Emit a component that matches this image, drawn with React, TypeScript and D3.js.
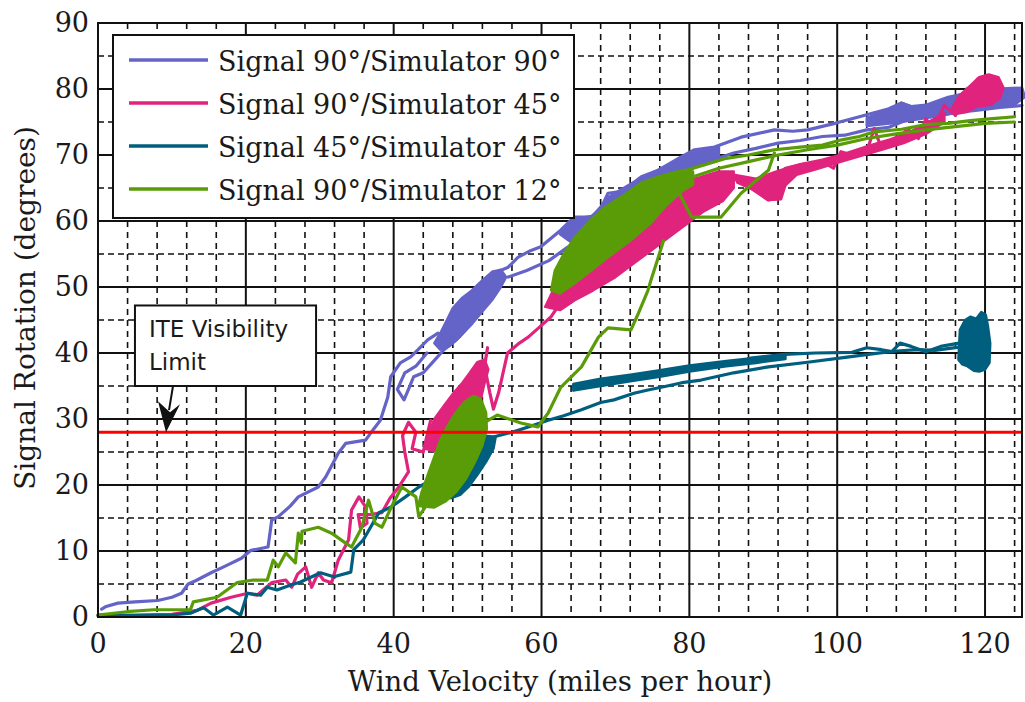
import { useEffect, useRef } from 'react';
import * as d3 from 'd3';

type Pt = [number, number];

// axis ticks
const xTicks = [0, 20, 40, 60, 80, 100, 120];
const yTicks = [0, 10, 20, 30, 40, 50, 60, 70, 80, 90];
const visibilityLimit = 28;

// Signal 90°/Simulator 90°
const blueRamp: Pt[] = [[0.5, 1.2], [1.1, 1.6], [2.7, 2.1], [5, 2.3], [8.1, 2.5], [10, 3.0], [11.3, 3.6], [12.2, 5.0], [13.2, 5.5], [15.3, 6.7], [17, 7.6], [19.4, 8.9], [20.7, 10.1], [23, 10.6], [23.3, 13], [23.5, 14.7], [24.4, 15.2], [26, 16.8], [27.1, 18.2], [29.8, 19.7], [30.8, 21.2], [32.5, 24.8], [33.5, 26.3], [36.2, 26.8], [37.3, 28.5], [38.2, 29.8], [39.2, 33.3], [39.6, 36.4], [40.9, 38.5], [42.3, 39.4], [43.3, 40.5], [44.6, 42], [46, 43]];
const blueLoop: Pt[] = [[55, 51.5], [53, 48], [50.5, 44.5], [48.5, 42], [46.8, 40.5], [45.2, 38.5], [44, 37], [42.7, 36.4], [42, 34.5], [41.4, 32.9], [40.5, 34.5], [41.5, 37], [43, 38], [44.5, 40]];
const blueUpper: Pt[] = [[53.6, 52.1], [55.5, 53], [56.8, 54.5], [58.5, 55.5], [59.9, 56.1], [62.6, 58.6], [64.4, 60.6], [66.7, 60.6], [68.1, 62.1], [69, 64.2], [70.4, 64.4], [71.5, 65], [73.5, 66.7], [75.8, 67.7], [78.9, 69.7], [80.7, 70.8], [83.4, 71.2], [87, 72.7], [91.5, 73.8], [94, 73.6], [96, 73.8], [99.7, 74.8], [102, 75.5], [105, 76.4], [107, 77], [108.7, 77.9], [110, 77.3], [111.5, 76.8], [114.2, 78.3], [116, 78.6], [118.6, 79.4], [121, 79.6], [123, 79.3], [125, 79.6]];
const blueReturn: Pt[] = [[125, 77.5], [122, 77.2], [119, 76.8], [116, 76.4], [113, 75.8], [110, 75.6], [107, 74.2], [104, 73.8], [101, 73], [98, 72.8], [95, 72.2], [92, 71.8], [89, 71], [86, 70.3], [83, 69.2], [80, 67.8], [77, 66], [74, 64], [71, 62], [68.5, 60.5], [66, 58.2], [63.5, 56], [61, 54], [58, 52.5], [55.5, 51.5]];
const blueBlob: Pt[] = [[45.5, 41.5], [46.3, 43], [47.2, 45], [48, 46.8], [49.2, 48.3], [50.4, 49.3], [51.8, 50.8], [53.3, 52.3], [54.5, 52.6], [55.2, 51.5], [54.5, 50], [53.3, 48], [52, 46.3], [50.5, 44.3], [49, 42.5], [47.5, 41], [46.3, 40.5]];
const blueMid: Pt[] = [[62.5, 58], [64.4, 60.3], [67, 60.8], [69, 63.6], [72, 65.6], [75, 67.3], [78.5, 69.3], [81, 70.6], [84, 71.2], [84, 69.6], [80, 67.8], [76, 65.8], [72, 62.8], [68, 59.8], [64, 56.8]];
const blueTop: Pt[] = [[104, 75.6], [107, 77], [108.7, 77.9], [110, 77.4], [112, 77.6], [115, 78.8], [118, 79.5], [121, 80], [125, 80.2], [125.4, 78.8], [124, 77.6], [120, 77.1], [116, 76.4], [112, 75.6], [108, 74.9], [104, 74.4]];

// Signal 90°/Simulator 45°
const pinkMain: Pt[] = [[0, 0.3], [5, 0.3], [10, 0.4], [12.2, 0.8], [13.4, 1.0], [15.3, 2.1], [18, 3.0], [20.3, 3.6], [21.5, 3.3], [23.5, 5.2], [25.4, 5.6], [26.2, 4.5], [27, 6.5], [28.1, 7.6], [28.9, 4.5], [29.8, 6.7], [30.5, 5.6], [31.6, 5.2], [32.5, 8.6], [33.9, 11.7], [34.3, 16.2], [35.3, 18.2], [36.2, 16.7], [36.4, 14.2], [35.5, 13.5], [35.2, 15.5], [36.8, 15.5], [38.4, 15.8], [39.5, 18], [40.7, 19.7], [42, 22], [41.5, 25], [41.2, 27.5], [42, 29.5], [43, 28], [42.5, 25.5], [44, 25], [44.5, 27.5], [45, 29.8]];
const pinkRise: Pt[] = [[51.5, 33], [52, 36], [52.7, 40.8], [52.3, 38], [53, 34], [53.5, 31.5], [54.2, 34], [55.4, 40], [57, 41.5], [58.2, 42.4], [59.8, 44], [61.3, 45.5], [62.5, 47.5], [63.6, 49.5], [65, 50.3], [66.5, 49.5], [67.7, 50.2], [66, 51]];
const pinkUpper: Pt[] = [[85, 67], [87, 66], [89, 64.5], [90.7, 63.2], [92.3, 63.5], [92.5, 65.8], [91.5, 66.5], [93, 68], [95, 68.5], [98, 69], [99.5, 68], [100.5, 70.5], [102, 70], [104, 70.5], [105, 74], [106, 71], [108, 72], [109.5, 74], [111, 72.5], [112, 75.5], [113, 74], [114.5, 77.5], [116, 76], [117, 78.5], [118.5, 77.5], [117.5, 80], [119.5, 79], [119, 81.5], [121, 80], [120.5, 81.8], [122, 79.5], [121.5, 78.5], [120, 77.5]];
const pinkBlob: Pt[] = [[44.3, 25.5], [44.8, 28], [45.5, 30], [46.8, 32], [48, 33.8], [49.3, 35.5], [50.3, 37], [51.3, 38.6], [52.3, 39], [52.8, 37.5], [52.2, 35], [51.8, 33], [50.8, 31], [49.8, 29], [48.8, 27], [47.5, 25.5], [46, 25]];
const pinkCluster: Pt[] = [[60.5, 47], [62, 50.5], [64, 53.5], [66, 56], [68, 58.5], [70, 60.5], [72.5, 62.5], [75, 64], [78, 65.5], [81, 66.5], [84, 67.5], [86, 67.5], [86, 65], [84.5, 63], [82, 61.5], [79, 59], [76, 56.5], [73, 54], [70, 51.5], [67, 49.5], [64.5, 48], [62.5, 46.5]];
const pinkMid: Pt[] = [[86, 67], [89, 66.4], [92, 67.6], [95, 68.6], [98, 69.3], [101, 70.2], [104, 71.3], [107, 72.3], [110, 73.6], [113, 75.4], [114.5, 76.4], [114.5, 75], [112, 73.2], [109, 71.8], [106, 70.8], [103, 69.8], [100, 68.8], [97, 67.8], [94.5, 67], [93, 65.4], [92.4, 63.3], [90.6, 63.2], [88.5, 64.8], [86.5, 65.8]];
const pinkTop: Pt[] = [[115.5, 77], [116.5, 79], [118, 80.5], [119.2, 81.8], [120.5, 82.2], [121.8, 81.8], [122.5, 80.2], [122, 78.6], [120.8, 77.6], [119, 77.4], [117.5, 76.5], [116, 76.2]];

// Signal 45°/Simulator 45°
const tealMain: Pt[] = [[0, 0.2], [5, 0.2], [10, 0.3], [12.6, 0.6], [13.6, 1.1], [14.3, 1.4], [15.6, 0.3], [17.5, 1.5], [19.3, 0.3], [20.2, 3.6], [22, 3.3], [22.9, 4.5], [24.2, 4.1], [26, 4.8], [27.4, 5.3], [30.1, 6.7], [31.9, 6.1], [34.2, 6.8], [34.6, 10.2], [35.9, 11.7], [38, 15.8], [39.7, 16.7], [41.6, 18.2], [43.4, 19.7], [45.2, 20.8], [47, 21.5]];
const tealLower: Pt[] = [[53.6, 27.3], [56, 28], [58.2, 28.8], [60.9, 29.8], [63, 30.5], [65.4, 31.4], [68, 32.5], [69.8, 32.9], [72.5, 33.9], [74.4, 34.4], [77, 35], [79, 35.5], [81.6, 35.9], [86, 37], [90.7, 37.9], [96, 38.6], [101.6, 39.4], [105, 39.9], [108, 40.3], [111, 40.5], [113.2, 40.4], [116.5, 40.9]];
const tealReturn: Pt[] = [[116.5, 41.5], [114, 41], [112, 40.2], [110, 41], [108.5, 41.5], [107.4, 40.2], [106, 40.5], [104, 40.8], [102, 40.1], [97, 40], [92.9, 39.8], [88, 39.2]];
const tealBlob: Pt[] = [[46.5, 18.5], [47, 21], [48, 23.5], [49.3, 25.5], [50.5, 26.8], [52, 27.5], [53.8, 27.3], [53.5, 25.5], [52.5, 23.5], [51.3, 21.5], [50.2, 19.8], [49, 18.5], [47.8, 18]];
const tealEnd: Pt[] = [[116.4, 39], [116.6, 43.5], [117.3, 45], [118, 45.5], [118.8, 45.2], [119.5, 46.2], [120.1, 45.8], [120.4, 44], [120.7, 41.5], [120.6, 38.5], [120, 37.5], [119.2, 37.2], [118.5, 37.3], [117.6, 38], [116.9, 38.3]];
const tealBand: Pt[] = [[64.3, 34.3], [64.3, 35.3], [68, 36.1], [72, 36.7], [76, 37.4], [80, 38.1], [85, 38.8], [90, 39.4], [93, 39.8], [93, 39.1], [89, 38.5], [85, 38], [80, 37.2], [76, 36.4], [72, 35.7], [68, 35]];

// Signal 90°/Simulator 12°
const greenMain: Pt[] = [[0, 0.3], [3.9, 0.8], [7.5, 1.1], [12.5, 1.1], [12.9, 2.3], [16.1, 3.0], [18.8, 5.2], [21, 5.6], [22.9, 5.6], [23.7, 8.6], [24.4, 7.6], [25.4, 9.7], [26.7, 8.2], [27.1, 12.7], [27.5, 11.2], [27.6, 13], [29.8, 13.6], [31.6, 12.7], [33.5, 11.2], [34.3, 10.6], [35.7, 13.6], [36.6, 17.7], [37.5, 14.2], [38.4, 13.6], [39.7, 16.7], [41.1, 19.7], [43, 18.2], [43.4, 15.2], [45.2, 18.2], [46, 20]];
const greenRise: Pt[] = [[52.2, 29.4], [54, 30.6], [57.2, 29.4], [59.5, 28.8], [60.9, 30.9], [62.6, 34.8], [65.4, 37.9], [67.7, 42.4], [69, 43.8], [72.1, 43.5], [73.1, 46], [74.4, 49.5], [74.8, 51], [75.8, 54.5], [76.5, 57]];
const greenLoop: Pt[] = [[78, 66.2], [78.9, 63.6], [80.3, 60.6], [84.3, 60.6], [87, 64.2], [90.7, 67.7], [91.5, 70.3]];
const greenUpper: Pt[] = [[79, 67.5], [82, 68.5], [85, 69.5], [88, 70], [91.5, 70.8], [95, 71.2], [98, 71.5], [100.6, 72.3], [103, 72.8], [105, 73.5], [108.7, 73.9], [112, 74.6], [115, 74.8], [118, 75.2], [121, 75.5], [124, 75.8]];
const greenReturn: Pt[] = [[124, 75], [120, 74.8], [116, 74.3], [112, 73.8], [108, 73.2], [104, 72.5], [100, 71.5], [96, 70.8], [92, 70], [88, 69], [84, 68], [80, 66.5]];
const greenBlob: Pt[] = [[43.3, 16.8], [43.8, 19], [44.6, 21.5], [45.4, 24], [46.2, 26.5], [47.2, 28.8], [48.3, 30.8], [49.5, 32.5], [50.8, 33.5], [51.8, 33], [52.5, 31], [52.6, 28.5], [52, 26], [51, 23.5], [49.8, 21], [48.5, 19], [47, 17.5], [45.5, 16.6]];
const greenCluster: Pt[] = [[61.3, 49.5], [61.8, 52.5], [63, 55], [64.5, 57.5], [66.5, 60], [68.5, 62], [71, 63.8], [73.5, 65.8], [76, 66.8], [79, 67.7], [80.5, 67.5], [80.5, 65.5], [79, 64.5], [77, 62.5], [74.8, 59.7], [72, 57], [69, 54.5], [66.5, 52.3], [64.4, 50.5], [62.5, 49]];

const series = [
  { label: 'Signal 90°/Simulator 90°', color: '#6464c8', lines: [blueRamp, blueLoop, blueUpper, blueReturn], areas: [blueBlob, blueMid, blueTop] },
  { label: 'Signal 90°/Simulator 45°', color: '#e0247e', lines: [pinkMain, pinkRise, pinkUpper], areas: [pinkBlob, pinkCluster, pinkMid, pinkTop] },
  { label: 'Signal 45°/Simulator 45°', color: '#005f7e', lines: [tealMain, tealLower, tealReturn], areas: [tealBlob, tealEnd, tealBand] },
  { label: 'Signal 90°/Simulator 12°', color: '#5a9c08', lines: [greenMain, greenRise, greenLoop, greenUpper, greenReturn], areas: [greenBlob, greenCluster] },
];

export default function App() {
  const svgRef = useRef<SVGSVGElement>(null);

  useEffect(() => {
    const svg = d3.select(svgRef.current);
    svg.selectAll('*').remove();

    const W = 1025, H = 702;
    const left = 98, right = 1022, top = 23, bottom = 617;
    const serif = "'DejaVu Serif', serif";
    const ink = '#1a1a1a';

    const x = d3.scaleLinear().domain([0, 125]).range([left, right]);
    const y = d3.scaleLinear().domain([0, 90]).range([bottom, top]);

    svg.attr('width', W).attr('height', H);
    svg.append('rect').attr('width', W).attr('height', H).attr('fill', '#fff');

    // minor dashed grid
    const g = svg.append('g');
    d3.range(4, 125, 4).filter(v => v % 20 !== 0).forEach(v => {
      g.append('line').attr('x1', x(v)).attr('x2', x(v)).attr('y1', top).attr('y2', bottom)
        .attr('stroke', '#111').attr('stroke-width', 1.6).attr('stroke-dasharray', '6,5');
    });
    d3.range(5, 90, 10).forEach(v => {
      g.append('line').attr('x1', left).attr('x2', right).attr('y1', y(v)).attr('y2', y(v))
        .attr('stroke', '#111').attr('stroke-width', 1.6).attr('stroke-dasharray', '6,4');
    });
    // major grid
    xTicks.forEach(v => {
      g.append('line').attr('x1', x(v)).attr('x2', x(v)).attr('y1', top).attr('y2', bottom)
        .attr('stroke', '#111').attr('stroke-width', 2);
    });
    yTicks.forEach(v => {
      g.append('line').attr('x1', left).attr('x2', right).attr('y1', y(v)).attr('y2', y(v))
        .attr('stroke', '#111').attr('stroke-width', 2);
    });

    // data traces
    const line = d3.line<Pt>().x(d => x(d[0])).y(d => y(d[1]));
    const outline = d3.line<Pt>().x(d => x(d[0])).y(d => y(d[1])).curve(d3.curveLinearClosed);
    series.forEach(s => {
      s.areas.forEach(tr => {
        g.append('path').attr('d', outline(tr)).attr('fill', s.color).attr('stroke', s.color)
          .attr('stroke-width', 2.5).attr('stroke-linejoin', 'round');
      });
      s.lines.forEach(tr => {
        g.append('path').attr('d', line(tr)).attr('fill', 'none').attr('stroke', s.color)
          .attr('stroke-width', 3.2).attr('stroke-linejoin', 'round').attr('stroke-linecap', 'round');
      });
    });

    // visibility limit
    g.append('line').attr('x1', left).attr('x2', right)
      .attr('y1', y(visibilityLimit)).attr('y2', y(visibilityLimit))
      .attr('stroke', '#ff0000').attr('stroke-width', 3);

    // frame
    g.append('rect').attr('x', left).attr('y', top).attr('width', right - left).attr('height', bottom - top)
      .attr('fill', 'none').attr('stroke', '#111').attr('stroke-width', 2);

    // tick labels
    yTicks.forEach(v => {
      svg.append('text').attr('x', 89).attr('y', y(v) + 9).attr('text-anchor', 'end')
        .attr('font-family', serif).attr('font-size', 27).attr('fill', ink).text(v);
    });
    xTicks.forEach(v => {
      svg.append('text').attr('x', x(v)).attr('y', 653).attr('text-anchor', 'middle')
        .attr('font-family', serif).attr('font-size', 27).attr('fill', ink).text(v);
    });

    // axis titles
    svg.append('text').attr('x', (left + right) / 2).attr('y', 691).attr('text-anchor', 'middle')
      .attr('font-family', serif).attr('font-size', 27.5).attr('fill', ink)
      .text('Wind Velocity (miles per hour)');
    svg.append('text').attr('transform', 'rotate(-90)').attr('x', -308).attr('y', 35)
      .attr('text-anchor', 'middle').attr('font-family', serif).attr('font-size', 28).attr('fill', ink)
      .text('Signal Rotation (degrees)');

    // legend
    const lg = svg.append('g');
    lg.append('rect').attr('x', 113).attr('y', 35).attr('width', 461).attr('height', 183)
      .attr('fill', '#fff').attr('stroke', '#111').attr('stroke-width', 2);
    series.forEach((s, i) => {
      const ly = 60 + i * 43;
      lg.append('line').attr('x1', 129).attr('x2', 208).attr('y1', ly).attr('y2', ly)
        .attr('stroke', s.color).attr('stroke-width', 3.5);
      lg.append('text').attr('x', 218).attr('y', ly + 11).attr('font-family', serif)
        .attr('font-size', 27).attr('fill', ink).text(s.label);
    });

    // ITE visibility annotation
    const bx = x(5), by = y(47.2), bw = x(29.5) - x(5), bh = y(35) - y(47.2);
    svg.append('rect').attr('x', bx).attr('y', by).attr('width', bw).attr('height', bh)
      .attr('fill', '#fff').attr('stroke', '#111').attr('stroke-width', 2);
    svg.append('text').attr('x', bx + 14).attr('y', by + 32).attr('font-family', "'DejaVu Sans', sans-serif")
      .attr('font-size', 23).attr('fill', ink).text('ITE Visibility');
    svg.append('text').attr('x', bx + 14).attr('y', by + 65).attr('font-family', "'DejaVu Sans', sans-serif")
      .attr('font-size', 23).attr('fill', ink).text('Limit');

    const tx = x(9.2), ty = y(visibilityLimit);
    svg.append('line').attr('x1', tx + 7).attr('y1', by + bh).attr('x2', tx + 3).attr('y2', ty - 22)
      .attr('stroke', '#111').attr('stroke-width', 2);
    svg.append('path')
      .attr('d', `M${tx},${ty} L${tx + 14},${ty - 28} L${tx + 4},${ty - 20} L${tx - 8},${ty - 31} Z`)
      .attr('fill', '#111');
  }, []);

  return (
    <div style={{ position: 'absolute', left: 0, top: 0 }}>
      <svg ref={svgRef} style={{ display: 'block' }} />
    </div>
  );
}
